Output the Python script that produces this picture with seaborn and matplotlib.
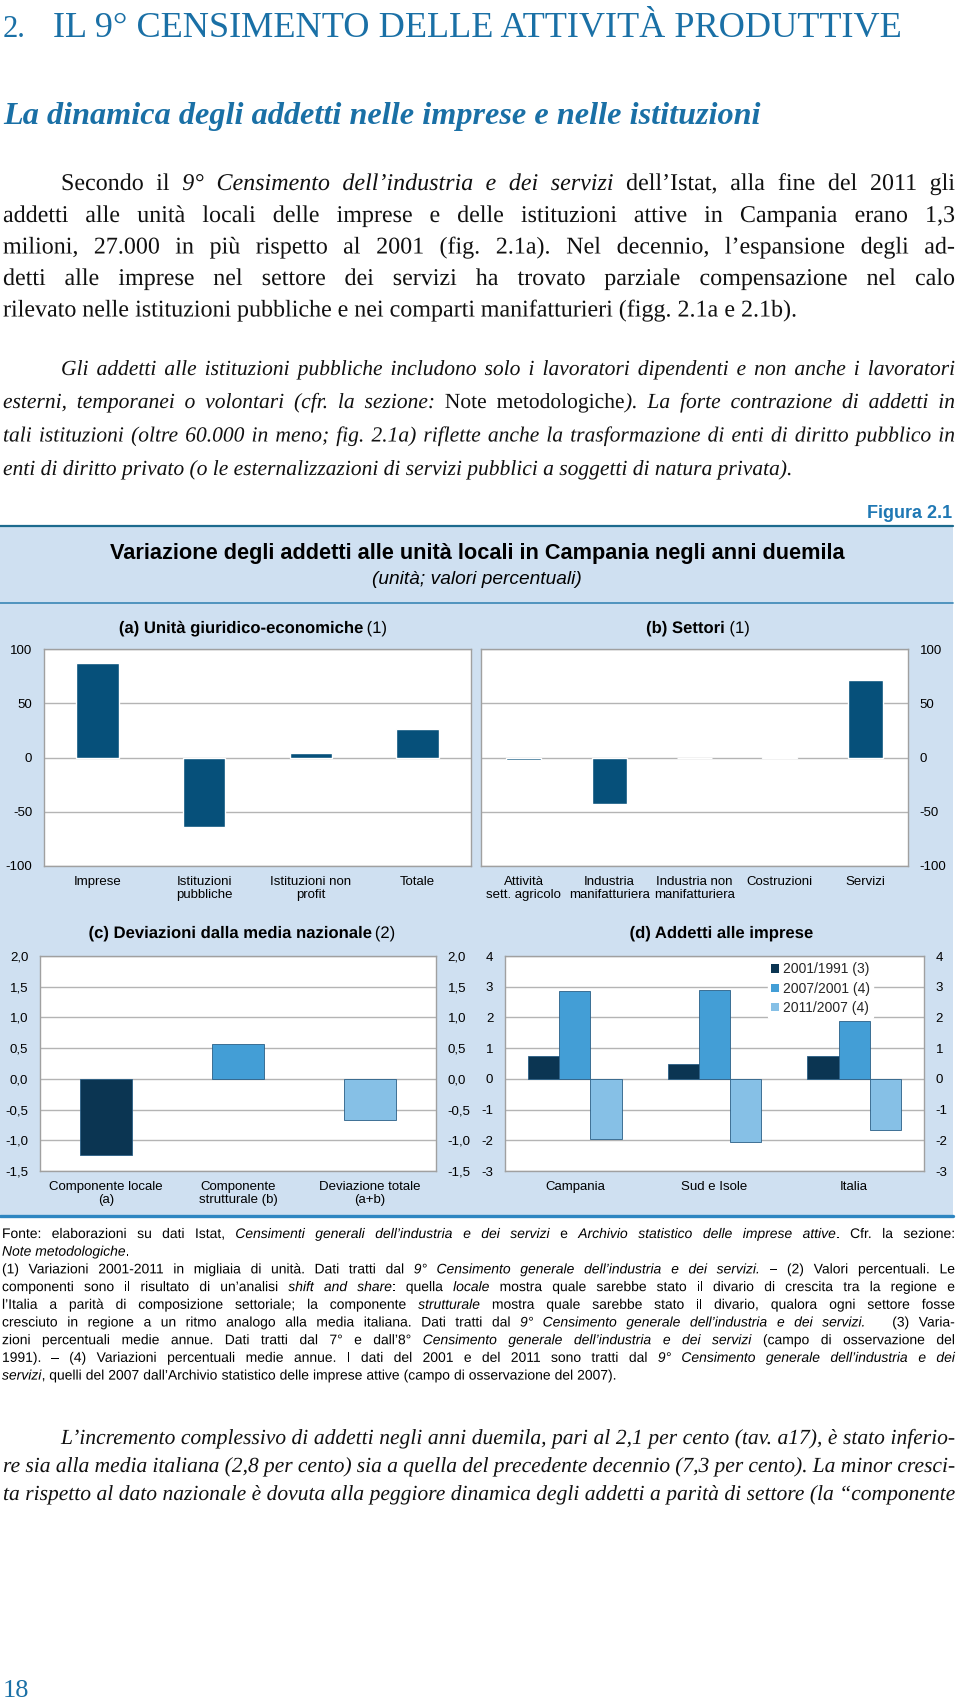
import numpy as np
import pandas as pd
import matplotlib
matplotlib.use("Agg")
import matplotlib.pyplot as plt
import matplotlib.patheffects as pe
from matplotlib.patches import Rectangle, Patch
from matplotlib.lines import Line2D
from matplotlib import font_manager as fm
import seaborn as sns

# ---------------- data ----------------
units_cats = ["Imprese", "Istituzioni\npubbliche", "Istituzioni non\nprofit", "Totale"]
units_vals = [86.7, -64.2, 3.7, 26.5]

sector_cats = ["Attività\nsett. agricolo", "Industria\nmanifatturiera",
               "Industria non\nmanifatturiera", "Costruzioni", "Servizi"]
sector_vals = [-2.5, -43.2, -0.4, 0.8, 71.3]

dev_cats = ["Componente locale\n(a)", "Componente\nstrutturale (b)", "Deviazione totale\n(a+b)"]
dev_vals = [-1.24, 0.575, -0.67]

firm_regions = ["Campania", "Sud e Isole", "Italia"]
firm_periods = ["2001/1991 (3)", "2007/2001 (4)", "2011/2007 (4)"]
firm_2001_1991 = [0.73, 0.475, 0.76]
firm_2007_2001 = [2.86, 2.88, 1.88]
firm_2011_2007 = [-1.95, -2.04, -1.68]

ticks_ab = [-100, -50, 0, 50, 100]
ticks_ab_labels = ["-100", "-50", "0", "50", "100"]
ticks_c = [-1.5, -1.0, -0.5, 0.0, 0.5, 1.0, 1.5, 2.0]
ticks_c_labels = ["-1,5", "-1,0", "-0,5", "0,0", "0,5", "1,0", "1,5", "2,0"]
ticks_d = [-3, -2, -1, 0, 1, 2, 3, 4]
ticks_d_labels = ["-3", "-2", "-1", "0", "1", "2", "3", "4"]

# ---------------- style ----------------
sns.set_style("white")
names = {f.name for f in fm.fontManager.ttflist}
SANS = "Liberation Sans" if "Liberation Sans" in names else "DejaVu Sans"
NARROW = "Liberation Sans Narrow" if "Liberation Sans Narrow" in names else SANS
SERIF = "Liberation Serif" if "Liberation Serif" in names else "DejaVu Serif"
plt.rcParams["font.family"] = [SANS, "DejaVu Sans"]

TEAL = "#1a70a6"
BG = "#cfe0f1"
BAR_AB = "#06507a"
PAL_3 = ["#0b3552", "#439ed6", "#86c0e6"]
GRID = "#b4b4b4"
SPINE = "#a0a0a0"
PE = [pe.Normal()]

W, H = 960, 1707
fig = plt.figure(figsize=(W / 100, H / 100), dpi=100)
fig.patch.set_facecolor("white")
renderer = fig.canvas.get_renderer()


def fx(x):
    return x / W


def fy(y):
    return 1 - y / H


def props(code, family, size, color):
    return dict(family=family, fontsize=size, color=color,
                style="italic" if "i" in code else "normal",
                weight="bold" if "b" in code else "normal")


def text_width(s, **kw):
    t = fig.text(0, 0, s, **kw)
    w = t.get_window_extent(renderer).width
    t.remove()
    return w


def space_width(family, size, code="n"):
    kw = props(code, family, size, "k")
    return text_width("a a", **kw) - text_width("aa", **kw)


def tokenize(segs):
    words = [[]]
    for txt, st in segs:
        parts = txt.split(" ")
        for k, p in enumerate(parts):
            if k > 0:
                words.append([])
            if p:
                words[-1].append((p, st))
    return [w for w in words if w]


def word_width(word, family, size):
    return sum(text_width(p, **props(c, family, size, "k")) for p, c in word)


def draw_word(x, y, word, family, size, color):
    for p, c in word:
        t = fig.text(fx(x), fy(y), p, ha="left", va="baseline", path_effects=PE,
                     **props(c, family, size, color))
        x += t.get_window_extent(renderer).width
    return x


def paragraph(lines, x0, x1, baselines, family, base_size, color):
    size = base_size
    sp = space_width(family, base_size)
    for segs, just, ind in lines:
        words = tokenize(segs)
        nat = sum(word_width(w, family, base_size) for w in words) + sp * 0.8 * (len(words) - 1)
        avail = x1 - x0 - ind
        if nat > avail:
            size = min(size, base_size * avail / nat)
    sp = space_width(family, size)
    for (segs, just, ind), y in zip(lines, baselines):
        words = tokenize(segs)
        widths = [word_width(w, family, size) for w in words]
        avail = x1 - x0 - ind
        if just and len(words) > 1:
            gap = (avail - sum(widths)) / (len(words) - 1)
        else:
            gap = sp
        x = x0 + ind
        for w, wd in zip(words, widths):
            draw_word(x, y, w, family, size, color)
            x += wd + gap


def fit_size(s, target, base, **kw):
    w = text_width(s, fontsize=base, **kw)
    return base * target / w


def centered_pieces(xc, y, pieces, family, size, color):
    sp = space_width(family, size)
    widths = [text_width(p, **props(c, family, size, color)) for p, c in pieces]
    total = sum(widths) + sp * (len(pieces) - 1)
    x = xc - total / 2
    for (p, c), w in zip(pieces, widths):
        fig.text(fx(x), fy(y), p, ha="left", va="baseline", path_effects=PE,
                 **props(c, family, size, color))
        x += w + sp


# ---------------- page header ----------------
fig.text(fx(3), fy(37), "2.", ha="left", va="baseline", family=SERIF, fontsize=22, color=TEAL)
head = "IL 9° CENSIMENTO DELLE ATTIVITÀ PRODUTTIVE"
hs = fit_size(head, 850, 22, family=SERIF)
fig.text(fx(53), fy(37), head, ha="left", va="baseline", family=SERIF, fontsize=hs, color=TEAL)

sub = "La dinamica degli addetti nelle imprese e nelle istituzioni"
ss = fit_size(sub, 759, 18, family=SERIF, style="italic", weight="bold")
fig.text(fx(3), fy(124), sub, ha="left", va="baseline", family=SERIF, fontsize=ss,
         style="italic", weight="bold", color=TEAL)

BODY = "#111111"
p1 = [
    ([("Secondo il ", "n"), ("9° Censimento dell’industria e dei servizi", "i"),
      (" dell’Istat, alla fine del 2011 gli", "n")], True, 58),
    ([("addetti alle unità locali delle imprese e delle istituzioni attive in Campania erano 1,3", "n")], True, 0),
    ([("milioni, 27.000 in più rispetto al 2001 (fig. 2.1a). Nel decennio, l’espansione degli ad-", "n")], True, 0),
    ([("detti alle imprese nel settore dei servizi ha trovato parziale compensazione nel calo", "n")], True, 0),
    ([("rilevato nelle istituzioni pubbliche e nei comparti manifatturieri (figg. 2.1a e 2.1b).", "n")], False, 0),
]
paragraph(p1, 3, 955, [190, 222, 253.5, 285, 316.5], SERIF, 17.3, BODY)

p2 = [
    ([("Gli addetti alle istituzioni pubbliche includono solo i lavoratori dipendenti e non anche i lavoratori", "i")], True, 58),
    ([("esterni, temporanei o volontari (cfr. la sezione: ", "i"), ("Note metodologiche", "n"),
      ("). La forte contrazione di addetti in", "i")], True, 0),
    ([("tali istituzioni (oltre 60.000 in meno; fig. 2.1a) riflette anche la trasformazione di enti di diritto pubblico in", "i")], True, 0),
    ([("enti di diritto privato (o le esternalizzazioni di servizi pubblici a soggetti di natura privata).", "i")], False, 0),
]
paragraph(p2, 3, 955, [375, 408, 441.5, 475], SERIF, 15.5, BODY)

# ---------------- chart panel ----------------
fig.add_artist(Rectangle((fx(0), fy(1216)), 953 / W, (1216 - 526) / H, transform=fig.transFigure,
                         facecolor=BG, edgecolor="none", zorder=-10))
fig.add_artist(Line2D([fx(0), fx(953)], [fy(526)] * 2, transform=fig.transFigure,
                      color="#1d6b8e", lw=1.6, zorder=-5))
fig.add_artist(Line2D([fx(0), fx(953)], [fy(603)] * 2, transform=fig.transFigure,
                      color="#3a86b5", lw=1.2, zorder=-5))
fig.add_artist(Line2D([fx(0), fx(953)], [fy(1216)] * 2, transform=fig.transFigure,
                      color="#2e86c1", lw=2.4, zorder=-5))

fig.text(fx(952), fy(513), "Figura 2.1", ha="right", va="center", family=SANS,
         fontsize=13, weight="bold", color="#1f78b4")
title = "Variazione degli addetti alle unità locali in Campania negli anni duemila"
ts = fit_size(title, 729, 12, family=SANS, weight="bold")
fig.text(fx(477), fy(553), title, ha="center", va="center", family=SANS, fontsize=ts,
         weight="bold", color="black")
subt = "(unità; valori percentuali)"
sts = fit_size(subt, 210, 11, family=SANS, style="italic")
fig.text(fx(477), fy(579), subt, ha="center", va="center", family=SANS, fontsize=sts,
         style="italic", color="black")

centered_pieces(253, 633, [("(a) Unità giuridico-economiche", "b"), ("(1)", "n")], SANS, 12, "black")
centered_pieces(698, 633, [("(b) Settori", "b"), ("(1)", "n")], SANS, 12, "black")
centered_pieces(242, 938, [("(c) Deviazioni dalla media nazionale", "b"), ("(2)", "n")], SANS, 12, "black")
centered_pieces(721, 938, [("(d) Addetti alle imprese", "b")], SANS, 12, "black")


def make_ax(l, t, r, b):
    return fig.add_axes([fx(l), fy(b), (r - l) / W, (b - t) / H])


def style_ax(ax, ticks, labels, side):
    ax.set_ylim(ticks[0], ticks[-1])
    ax.set_yticks(ticks)
    ax.set_yticklabels(labels)
    ax.set_facecolor("white")
    ax.yaxis.grid(True, color=GRID, lw=1)
    ax.xaxis.grid(False)
    ax.set_axisbelow(True)
    for s in ax.spines.values():
        s.set_visible(True)
        s.set_color(SPINE)
        s.set_linewidth(1)
    ax.set_xlabel("")
    ax.set_ylabel("")
    ax.tick_params(axis="both", length=0, labelsize=9.5, labelcolor="black")
    ax.tick_params(axis="x", pad=7)
    ax.tick_params(axis="y", pad=8.5)
    if side == "right":
        ax.yaxis.set_ticks_position("right")
        ax.tick_params(axis="y", labelleft=False, labelright=True)
    elif side == "both":
        ax.yaxis.set_ticks_position("both")
        ax.tick_params(axis="y", labelleft=True, labelright=True)
    for lbl in ax.get_xticklabels():
        lbl.set_linespacing(1.1)


ax_a = make_ax(44, 649, 471, 866)
sns.barplot(x=units_cats, y=units_vals, color=BAR_AB, width=0.4, saturation=1,
            errorbar=None, ax=ax_a)
style_ax(ax_a, ticks_ab, ticks_ab_labels, "left")

ax_b = make_ax(481, 649, 908, 866)
sns.barplot(x=sector_cats, y=sector_vals, color=BAR_AB, width=0.41, saturation=1,
            errorbar=None, ax=ax_b)
style_ax(ax_b, ticks_ab, ticks_ab_labels, "right")

ax_c = make_ax(40, 956, 436, 1171)
sns.barplot(x=dev_cats, y=dev_vals, hue=dev_cats, palette=PAL_3, width=0.4, saturation=1,
            dodge=False, legend=False, errorbar=None, ax=ax_c,
            edgecolor="#2a5f86", linewidth=0.6)
style_ax(ax_c, ticks_c, ticks_c_labels, "both")

df_d = pd.DataFrame({
    "region": firm_regions * 3,
    "period": np.repeat(firm_periods, len(firm_regions)),
    "value": firm_2001_1991 + firm_2007_2001 + firm_2011_2007,
})
ax_d = make_ax(505, 956, 924, 1171)
sns.barplot(data=df_d, x="region", y="value", hue="period", hue_order=firm_periods,
            palette=PAL_3, width=0.67, saturation=1, legend=False, errorbar=None, ax=ax_d,
            edgecolor="#2a5f86", linewidth=0.6)
style_ax(ax_d, ticks_d, ticks_d_labels, "both")
handles = [Patch(facecolor=c, edgecolor="none") for c in PAL_3]
leg = ax_d.legend(handles, firm_periods, loc="upper left", bbox_to_anchor=(fx(768), fy(959)),
                  bbox_transform=fig.transFigure, frameon=True, fontsize=10,
                  handlelength=0.55, handleheight=0.55, handletextpad=0.25,
                  labelspacing=0.38, borderpad=0.25, borderaxespad=0)
leg.get_frame().set_facecolor("white")
leg.get_frame().set_edgecolor("white")
leg.get_frame().set_alpha(1)

# ---------------- footnotes ----------------
notes = [
    ([("Fonte: elaborazioni su dati Istat, ", "n"), ("Censimenti generali dell’industria e dei servizi", "i"),
      (" e ", "n"), ("Archivio statistico delle imprese attive", "i"), (". Cfr. la sezione:", "n")], True, 0),
    ([("Note metodologiche", "i"), (".", "n")], False, 0),
    ([("(1) Variazioni 2001-2011 in migliaia di unità. Dati tratti dal ", "n"),
      ("9° Censimento generale dell’industria e dei servizi.", "i"), (" – (2) Valori percentuali. Le", "n")], True, 0),
    ([("componenti sono il risultato di un’analisi ", "n"), ("shift and share", "i"), (": quella ", "n"),
      ("locale", "i"), (" mostra quale sarebbe stato il divario di crescita tra la regione e", "n")], True, 0),
    ([("l’Italia a parità di composizione settoriale; la componente ", "n"), ("strutturale", "i"),
      (" mostra quale sarebbe stato il divario, qualora ogni settore fosse", "n")], True, 0),
    ([("cresciuto in regione a un ritmo analogo alla media italiana. Dati tratti dal ", "n"),
      ("9° Censimento generale dell’industria e dei servizi.", "i"), (" – (3) Varia-", "n")], True, 0),
    ([("zioni percentuali medie annue. Dati tratti dal 7° e dall’8° ", "n"),
      ("Censimento generale dell’industria e dei servizi", "i"), (" (campo di osservazione del", "n")], True, 0),
    ([("1991). – (4) Variazioni percentuali medie annue. I dati del 2001 e del 2011 sono tratti dal ", "n"),
      ("9° Censimento generale dell’industria e dei", "i")], True, 0),
    ([("servizi", "i"), (", quelli del 2007 dall’Archivio statistico delle imprese attive (campo di osservazione del 2007).", "n")], False, 0),
]
paragraph(notes, 2, 955, [1238 + 17.7 * i for i in range(len(notes))], NARROW, 10, "black")

# ---------------- closing paragraph ----------------
p3 = [
    ([("L’incremento complessivo di addetti negli anni duemila, pari al 2,1 per cento (tav. a17), è stato inferio-", "i")], True, 58),
    ([("re sia alla media italiana (2,8 per cento) sia a quella del precedente decennio (7,3 per cento). La minor cresci-", "i")], True, 0),
    ([("ta rispetto al dato nazionale è dovuta alla peggiore dinamica degli addetti a parità di settore (la “componente", "i")], True, 0),
]
paragraph(p3, 3, 955, [1444, 1472, 1500], SERIF, 15.5, BODY)

fig.text(fx(3), fy(1697), "18", ha="left", va="baseline", family=SERIF, fontsize=19, color=TEAL)

fig.savefig("out.png", dpi=100, facecolor="white")
